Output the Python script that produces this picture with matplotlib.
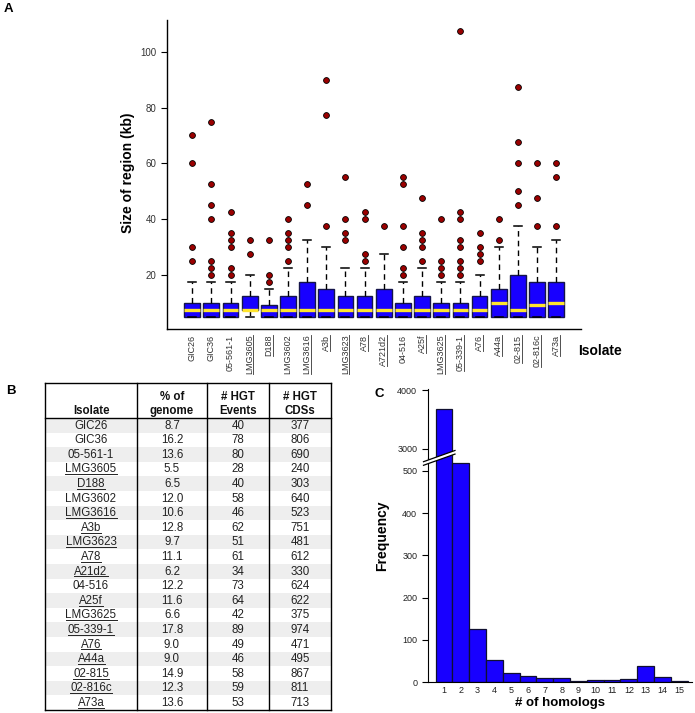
import matplotlib
matplotlib.use("Agg")
import matplotlib.pyplot as plt
import numpy as np
from matplotlib.patches import Polygon, Rectangle
from matplotlib.lines import Line2D

plt.rcParams['font.family'] = ['Liberation Sans', 'DejaVu Sans']

W, H = 695, 713
BLUE = '#1800ff'
YELLOW = '#ffe52e'
RED = '#9a0000'

# ---- panel A: region sizes per isolate (kb)
isolates = ['GIC26', 'GIC36', '05-561-1', 'LMG3605', 'D188', 'LMG3602', 'LMG3616',
            'A3b', 'LMG3623', 'A78', 'A721d2', '04-516', 'A25f', 'LMG3625',
            '05-339-1', 'A76', 'A44a', '02-815', '02-816c', 'A73a']
underlined = {'LMG3605', 'D188', 'LMG3616', 'A3b', 'LMG3623', 'A78', 'A721d2', 'A21d2',
              'A25f', 'LMG3625', '05-339-1', 'A76', 'A44a', '02-815', '02-816c', 'A73a'}
box_q1 = [5, 5, 5, 7.5, 5, 5, 5, 5, 5, 5, 5, 5, 5, 5, 5, 5, 5, 5, 5, 5]
box_med = [7.5, 7.5, 7.5, 7.5, 7.5, 7.5, 7.5, 7.5, 7.5, 7.5, 7.5, 7.5, 7.5, 7.5, 7.5, 7.5, 10, 7.5, 9.5, 10]
box_q3 = [10, 10, 10, 12.5, 9.5, 12.5, 17.5, 15, 12.5, 12.5, 15, 10, 12.5, 10, 10, 12.5, 15, 20, 17.5, 17.5]
whisk_lo = [5, 5, 5, 5, 5, 5, 5, 5, 5, 5, 5, 5, 5, 5, 5, 5, 5, 5, 5, 5]
whisk_hi = [17.5, 17.5, 17.5, 20, 15, 22.5, 32.5, 30, 22.5, 22.5, 27.5, 17.5, 22.5, 17.5, 17.5, 20, 30, 37.5, 30, 32.5]
outliers = [
    [70, 60, 30, 25],
    [75, 52.5, 45, 40, 25, 22.5, 20],
    [42.5, 35, 32.5, 30, 22.5, 20],
    [32.5, 27.5],
    [32.5, 20, 17.5],
    [40, 35, 32.5, 30, 25],
    [52.5, 45],
    [90, 77.5, 37.5],
    [55, 40, 35, 32.5],
    [42.5, 40, 27.5, 25],
    [37.5],
    [55, 52.5, 37.5, 30, 22.5, 20],
    [47.5, 35, 32.5, 30, 25],
    [40, 25, 22.5, 20],
    [107.5, 42.5, 40, 32.5, 30, 25, 22.5, 20],
    [35, 30, 27.5, 25],
    [40, 32.5],
    [87.5, 67.5, 60, 50, 45],
    [60, 47.5, 37.5],
    [60, 55, 37.5],
]

# ---- panel B: table
table_isolates = ['GIC26', 'GIC36', '05-561-1', 'LMG3605', 'D188', 'LMG3602', 'LMG3616',
                  'A3b', 'LMG3623', 'A78', 'A21d2', '04-516', 'A25f', 'LMG3625',
                  '05-339-1', 'A76', 'A44a', '02-815', '02-816c', 'A73a']
pct_genome = [8.7, 16.2, 13.6, 5.5, 6.5, 12.0, 10.6, 12.8, 9.7, 11.1, 6.2, 12.2, 11.6,
              6.6, 17.8, 9.0, 9.0, 14.9, 12.3, 13.6]
hgt_events = [40, 78, 80, 28, 40, 58, 46, 62, 51, 61, 34, 73, 64, 42, 89, 49, 46, 58, 59, 53]
hgt_cds = [377, 806, 690, 240, 303, 640, 523, 751, 481, 612, 330, 624, 622, 375, 974,
           471, 495, 867, 811, 713]
table_header = [['Isolate'], ['% of', 'genome'], ['# HGT', 'Events'], ['# HGT', 'CDSs']]

# ---- panel C: histogram of homolog counts
homologs = list(range(1, 16))
freq = [3680, 519, 127, 52, 23, 14, 10, 9, 3, 5, 6, 8, 38, 12, 3]


def px_rect(l, t, r, b):
    return [l / W, 1 - b / H, (r - l) / W, (b - t) / H]


fig = plt.figure(figsize=(W / 100, H / 100), dpi=100)

# ================= A
axA = fig.add_axes(px_rect(167, 20, 580.7, 329))
pos = np.arange(1, len(isolates) + 1)
stats = [dict(med=m, q1=a, q3=b, whislo=lo, whishi=hi, fliers=f)
         for m, a, b, lo, hi, f in zip(box_med, box_q1, box_q3, whisk_lo, whisk_hi, outliers)]
axA.bxp(stats, positions=pos, widths=0.82, capwidths=0.42, patch_artist=True,
        boxprops=dict(facecolor=BLUE, edgecolor='#15154a', lw=1),
        medianprops=dict(color=YELLOW, lw=2.4, solid_capstyle='butt'),
        whiskerprops=dict(color='black', lw=1, linestyle=(0, (4, 3))),
        capprops=dict(color='black', lw=1.1),
        flierprops=dict(marker='o', markerfacecolor=RED, markeredgecolor='black',
                        markersize=4.2, markeredgewidth=0.6))
axA.set_xlim(-0.315, 21.28)
axA.set_ylim(0.8, 111.3)
axA.set_yticks([20, 40, 60, 80, 100])
axA.set_xticks(pos, isolates, rotation=90, fontsize=6.5, color='#333333')
axA.tick_params(axis='x', length=0, pad=4)
axA.tick_params(axis='y', labelsize=7, length=4, width=0.8, labelcolor='#333333')
for s in ['top', 'right']:
    axA.spines[s].set_visible(False)
for s in ['left', 'bottom']:
    axA.spines[s].set_linewidth(1)
fig.text(128 / W, 1 - 173 / H, 'Size of region (kb)', rotation=90, fontsize=10,
         fontweight='bold', ha='center', va='center')
fig.text(578 / W, 1 - 351 / H, 'Isolate', fontsize=10, fontweight='bold',
         ha='left', va='center')

# ================= C
axCl = fig.add_axes(px_rect(427.7, 458, 691.7, 682.3))
axCu = fig.add_axes(px_rect(427.7, 389, 691.7, 458))
for ax in (axCl, axCu):
    ax.bar(homologs, freq, width=1.0, color=BLUE, edgecolor='#101030', lw=0.9)
    ax.set_xlim(0.03, 15.74)
    ax.spines['top'].set_visible(False)
    ax.spines['right'].set_visible(False)
    ax.tick_params(labelsize=6.5, length=4, width=0.8, labelcolor='#222222')
axCl.set_ylim(0, 530)
axCl.set_yticks([0, 100, 200, 300, 400, 500])
axCl.set_xticks(homologs)
axCl.tick_params(axis='x', length=0, pad=3)
axCu.set_ylim(2847, 4017)
axCu.set_yticks([3000, 4000])
axCu.set_xticks([])
axCu.spines['bottom'].set_visible(False)
axCl.set_xlabel('# of homologs', fontsize=9.5, fontweight='bold', labelpad=1)
fig.text(382 / W, 1 - 536 / H, 'Frequency', rotation=90, fontsize=10,
         fontweight='bold', ha='center', va='center')

# axis break mark
axO = fig.add_axes([0, 0, 1, 1], zorder=10)
axO.set_xlim(0, W)
axO.set_ylim(H, 0)
axO.axis('off')
bx = np.array([423.5, 455.0])
bc = 462.0 - (bx - 427.7) * 0.356
axO.add_patch(Polygon([(bx[0], bc[0] - 1.8), (bx[1], bc[1] - 1.8),
                       (bx[1], bc[1] + 1.8), (bx[0], bc[0] + 1.8)],
                      closed=True, facecolor='white', edgecolor='none'))
axO.plot(bx, bc - 1.8, color='black', lw=0.9)
axO.plot(bx, bc + 1.8, color='black', lw=0.9)

# ================= B
axT = fig.add_axes(px_rect(45, 383, 331, 710))
col_edges = [0, 92, 162, 224, 286]
axT.set_xlim(0, 286)
axT.set_ylim(20, -2.4)
axT.axis('off')
for i in range(len(table_isolates)):
    if i % 2 == 0:
        axT.add_patch(Rectangle((0, i), 286, 1, facecolor='#eeeeee', lw=0))
col_mid = [(col_edges[j] + col_edges[j + 1]) / 2 for j in range(4)]
name_texts = []
for i, (nm, p, e, c) in enumerate(zip(table_isolates, pct_genome, hgt_events, hgt_cds)):
    y = i + 0.52
    t = axT.text(col_mid[0], y, nm, ha='center', va='center', fontsize=8.3, color='#222222')
    name_texts.append(t)
    axT.text(col_mid[1], y, f'{p:.1f}', ha='center', va='center', fontsize=8.3, color='#222222')
    axT.text(col_mid[2], y, f'{e}', ha='center', va='center', fontsize=8.3, color='#222222')
    axT.text(col_mid[3], y, f'{c}', ha='center', va='center', fontsize=8.3, color='#222222')
for j, lines in enumerate(table_header):
    ys = [-0.45] if len(lines) == 1 else [-1.45, -0.45]
    for ln, y in zip(lines, ys):
        axT.text(col_mid[j], y, ln, ha='center', va='center', fontsize=8.3,
                 fontweight='bold', color='#111111')
for xe in col_edges:
    axT.plot([xe, xe], [-2.4, 20], color='black', lw=1, clip_on=False)
for ye in [-2.4, 0, 20]:
    axT.plot([0, 286], [ye, ye], color='black', lw=1, clip_on=False)

# panel letters
for letter, x, y in [('A', 8, 9), ('B', 11, 391), ('C', 379, 394)]:
    fig.text(x / W, 1 - y / H, letter, fontsize=9.5, fontweight='bold',
             ha='center', va='center')

# underlines (matplotlib text has no underline style)
fig.canvas.draw()
r = fig.canvas.get_renderer()
for lbl in axA.get_xticklabels():
    if lbl.get_text() in underlined:
        bb = lbl.get_window_extent(r)
        x = bb.x1 - 0.8
        fig.add_artist(Line2D([x / W, x / W], [bb.y0 / H, bb.y1 / H],
                              color='#333333', lw=0.6))
for t in name_texts:
    if t.get_text() in underlined:
        bb = t.get_window_extent(r)
        y = bb.y0 + 1.2
        fig.add_artist(Line2D([bb.x0 / W, bb.x1 / W], [y / H, y / H],
                              color='#222222', lw=0.7))

fig.savefig('out.png', dpi=100)
